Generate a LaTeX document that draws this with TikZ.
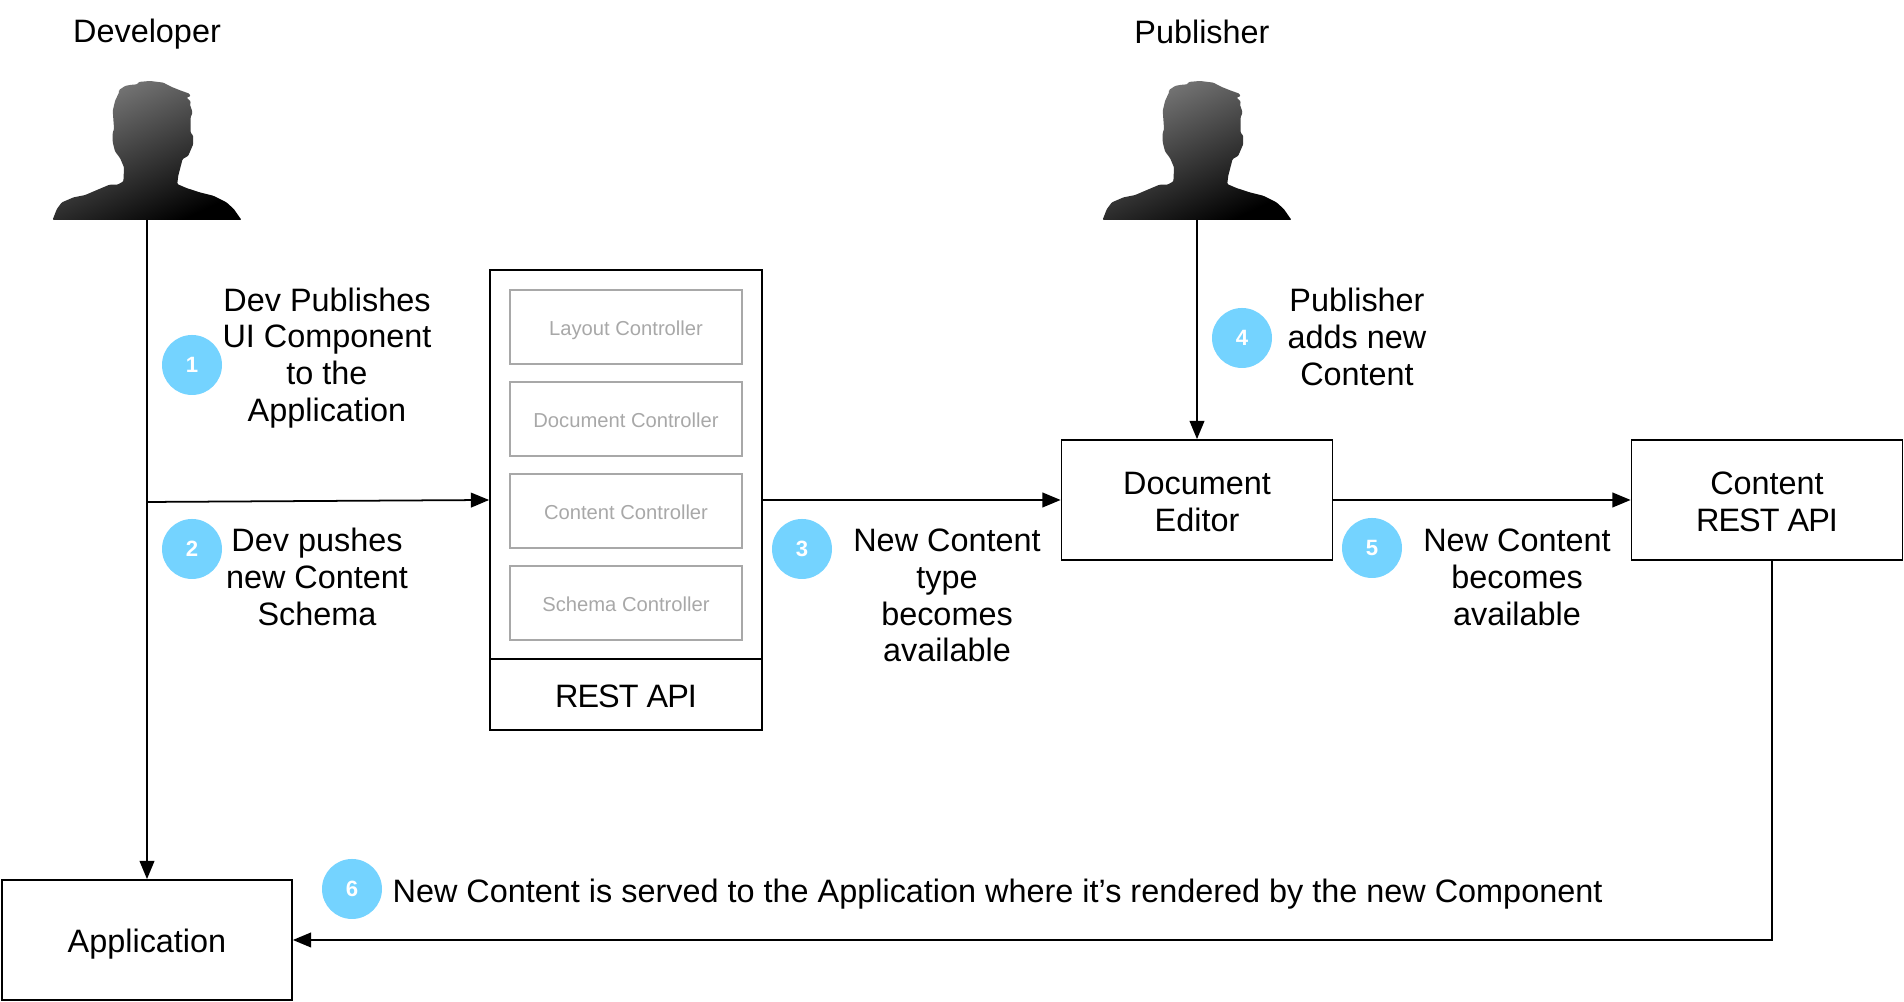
\documentclass[tikz,border=0pt]{standalone}
\usepackage{fontspec}
\setmainfont{Liberation Sans}
\usetikzlibrary{arrows.meta}
\definecolor{badgeblue}{HTML}{74D3FF}
\definecolor{ctrlgray}{HTML}{A8A8A8}
\newcommand{\restapi}{{\addfontfeature{LetterSpace=-3}REST API}}
\tikzset{
  box/.style={draw, line width=0.5pt, inner sep=0pt, align=center},
  ctrlbox/.style={draw=ctrlgray, line width=0.5pt, minimum width=2.32cm, minimum height=0.74cm, inner sep=0pt, text=ctrlgray, text height=5pt, text depth=0.4pt, font=\fontsize{5.75}{7}\selectfont},
  badge/.style={circle, fill=badgeblue, minimum size=0.6cm, inner sep=0pt, text=white, font=\fontsize{6.3}{7}\selectfont\bfseries},
  lbl/.style={align=center, inner sep=0pt},
  person/.pic={
    \shade[x=0.003333cm, y=-0.003333cm, shift={(-351,-478)}, top color=black!52, middle color=black!74, bottom color=black, shading angle=25, rounded corners=0.3pt]
      (67,478) -- (80,445) -- (95,425) -- (130,410) -- (165,403) -- (200,388) -- (238,372) -- (262,372)
      -- (280,362) -- (282,320) -- (270,292) -- (255,272) -- (248,245) -- (248,215) -- (252,205) -- (248,150)
      -- (255,120) -- (268,92) -- (266,88) -- (285,75) -- (300,72) -- (322,70) -- (326,63) -- (360,60)
      -- (400,65) -- (425,78) -- (450,88) -- (478,98) -- (482,106) -- (470,110) -- (483,122) -- (480,130)
      -- (488,155) -- (482,170) -- (482,215) -- (490,225) -- (490,250)
      -- (475,285) -- (458,295) -- (445,345) -- (442,370) -- (470,382) -- (510,395) -- (550,405) -- (590,425)
      -- (612,445) -- (635,478) -- cycle;
  }
}

\begin{document}
\begin{tikzpicture}[>={Stealth[inset=0pt, length=5.2pt, width=4.2pt]}, font=\fontsize{9.22}{10.5}\selectfont]
            \useasboundingbox (0,0) rectangle (19.04,10.02);

            % people
            \node[lbl] (developer) at (1.47,9.68) {Developer};
            \node[lbl] (publisher) at (12.02,9.70) {Publisher};
            \coordinate (devbase) at (1.47,7.82);
            \coordinate (pubbase) at (11.97,7.82);
            \pic at (devbase) {person};
            \pic at (pubbase) {person};

            % boxes
            \node[box, minimum width=2.90cm, minimum height=1.20cm] (app) at (1.47,0.62) {};
            \node[lbl] (applabel) at (1.47,0.58) {Application};
            \node[box, minimum width=2.72cm, minimum height=4.60cm] (restbox) at (6.26,5.02) {};
            \node[ctrlbox] (layout) at (6.26,6.75) {Layout Controller};
            \node[ctrlbox] (document) at (6.26,5.83) {Document Controller};
            \node[ctrlbox] (content) at (6.26,4.91) {Content Controller};
            \node[ctrlbox] (schema) at (6.26,3.99) {Schema Controller};
            \node[lbl] (restlabel) at (6.26,3.06) {\restapi};
            \coordinate (restdiv) at (4.90,3.43);
            \draw[line width=0.5pt] (restdiv) -- (restdiv -| restbox.east);
            \node[box, minimum width=2.71cm, minimum height=1.20cm] (editor) at (11.97,5.02) {};
            \node[lbl] (editorlabel) at (11.97,5.00) {Document\\Editor};
            \node[box, minimum width=2.71cm, minimum height=1.20cm] (contentapi) at (17.67,5.02) {};
            \node[lbl] (contentlabel) at (17.67,5.00) {Content\\\restapi};

            % connectors
            \coordinate (devbranch) at (1.47,5.00);
            \coordinate (contentout) at (17.72,4.42);
            \draw[->, line width=0.5pt] (devbase) -- (app.north);
            \draw[->, line width=0.5pt] (devbranch) -- (restbox.west);
            \draw[->, line width=0.5pt] (restbox.east) -- (editor.west);
            \draw[->, line width=0.5pt] (pubbase) -- (editor.north);
            \draw[->, line width=0.5pt] (editor.east) -- (contentapi.west);
            \draw[->, line width=0.5pt] (contentout) |- (app.east);

            % steps
            \node[badge] (one) at (1.92,6.37) {1};
            \node[lbl] (onetext) at (3.27,6.44) {Dev Publishes\\UI Component\\to the\\Application};
            \node[badge] (two) at (1.92,4.53) {2};
            \node[lbl] (twotext) at (3.17,4.25) {Dev pushes\\new Content\\Schema};
            \node[badge] (three) at (8.02,4.53) {3};
            \node[lbl] (threetext) at (9.47,4.065) {New Content\\type\\becomes\\available};
            \node[badge] (four) at (12.42,6.64) {4};
            \node[lbl] (fourtext) at (13.57,6.65) {Publisher\\adds new\\Content};
            \node[badge] (five) at (13.72,4.54) {5};
            \node[lbl] (fivetext) at (15.17,4.25) {New Content\\becomes\\available};
            \node[badge] (six) at (3.52,1.13) {6};
            \node[lbl, anchor=west] (sixtext) at (3.92,1.075) {New Content is served to the Application where it’s rendered by the new Component};
        \end{tikzpicture}
\end{document}
